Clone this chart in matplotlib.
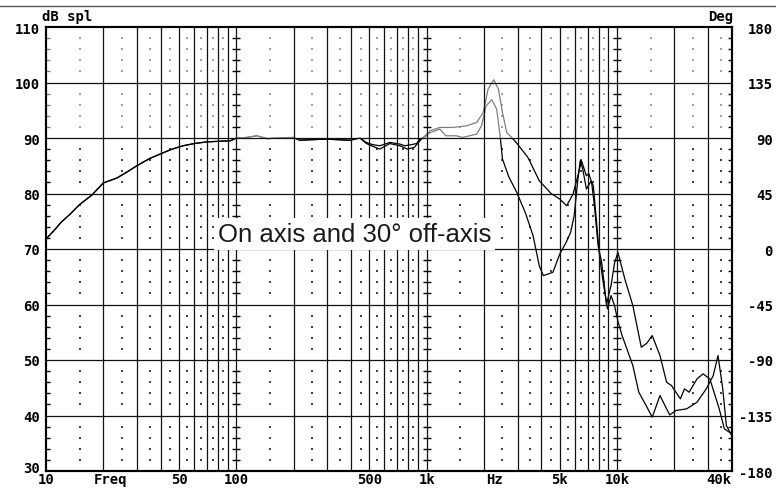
import matplotlib
matplotlib.use("Agg")
import matplotlib.pyplot as plt
from matplotlib.lines import Line2D
from matplotlib.transforms import ScaledTranslation
import numpy as np

## --- Data ---
# part shared by both curves, 10 Hz .. 450 Hz
LOW_FREQ = [10, 11, 12, 13.4, 15, 17.4, 20, 23.6, 27, 30, 35, 41, 46, 52.5, 60, 70, 80,
            93, 100, 108, 128, 145, 169, 199, 216, 250, 298, 340, 395, 445]
LOW_DB = [71.8, 73.3, 74.8, 76.3, 78.0, 79.7, 81.9, 82.8, 84.0, 85.0, 86.3, 87.3, 88.0, 88.6,
          89.0, 89.3, 89.4, 89.5, 90.0, 90.0, 90.4, 89.9, 90.0, 90.1, 89.6, 89.7, 89.8, 89.7,
          89.6, 90.0]

# on axis
ON_FREQ = [482, 520, 567, 640, 723, 767, 830, 884, 920, 1000, 1040, 1170, 1370, 1620, 1830,
           1980, 2100, 2250, 2380, 2500, 2630, 2900, 3030, 3400, 3900, 4500, 5000, 5430, 5870,
           6200, 6500, 6900, 7100, 7350, 7600, 7950, 8300, 8800, 9300, 9700, 10100, 11000,
           12100, 13400, 14300, 15300, 16800, 18200, 19300, 21500, 22600, 23900, 26300, 28300,
           30700, 34400, 36600, 40000]
ON_DB = [89.2, 88.8, 88.6, 89.2, 88.9, 88.6, 88.8, 89.0, 89.8, 90.4, 91.3, 91.9, 91.9, 92.2,
         92.8, 94.6, 98.8, 100.5, 98.8, 94.6, 91.0, 89.5, 88.7, 86.5, 82.3, 80.0, 79.0, 77.8,
         79.9, 83.0, 85.9, 83.2, 83.6, 82.0, 77.8, 70.6, 67.6, 60.0, 63.5, 67.5, 69.4, 64.5,
         59.8, 52.3, 53.0, 54.4, 50.8, 46.0, 45.4, 43.0, 44.8, 44.2, 46.6, 47.5, 46.6, 41.2,
         37.6, 36.7]

# 30 degrees off axis
OFF_FREQ = [482, 530, 567, 640, 723, 790, 860, 920, 1000, 1170, 1260, 1430, 1540, 1830, 1940,
            2050, 2200, 2330, 2430, 2500, 2700, 2970, 3300, 3620, 3900, 4100, 4600, 5000, 5400,
            5700, 5950, 6200, 6400, 6600, 6900, 7300, 7500, 7800, 8100, 8400, 8900, 9300, 9700,
            10100, 10600, 12100, 13000, 14200, 15300, 16800, 18200, 18900, 20400, 23200, 26300,
            29400, 32000, 33900, 35900, 37500, 40000]
OFF_DB = [89.0, 88.4, 88.0, 89.0, 88.6, 88.0, 88.3, 89.5, 90.7, 91.6, 90.4, 90.4, 90.1, 90.7,
          92.2, 95.8, 96.9, 95.2, 90.4, 86.2, 83.0, 80.2, 76.5, 72.4, 67.0, 65.2, 65.8, 69.1,
          71.2, 73.0, 76.0, 82.0, 85.9, 84.4, 80.8, 82.2, 81.4, 74.8, 68.5, 64.6, 59.2, 61.6,
          59.8, 57.0, 54.5, 49.0, 44.2, 41.8, 39.7, 43.6, 41.2, 40.1, 40.9, 41.2, 42.4, 44.8,
          47.2, 50.8, 44.8, 38.2, 36.4]

DB_TICKS = [30, 40, 50, 60, 70, 80, 90, 100, 110]
DEG_TICKS = [-180, -135, -90, -45, 0, 45, 90, 135, 180]
X_TICKS = [10, 21.7, 50, 100, 500, 1000, 2280, 5000, 10000, 40000]
X_LABELS = ["10", "Freq", "50", "100", "500", "1k", "Hz", "5k", "10k", "40k"]
ANNOTATION = "On axis and 30\u00b0 off-axis"

## --- Plot settings ---
W, H = 776, 489
LEFT, RIGHT, TOP, BOTTOM = 46, 731.7, 28, 472
LABEL_FONT = dict(family="DejaVu Sans Mono", weight="bold", size=10)
GRID_COLOR = "#111111"


def main():
    fig = plt.figure(figsize=(W / 100, H / 100), dpi=100)
    ax = fig.add_axes([LEFT / W, 1 - BOTTOM / H, (RIGHT - LEFT) / W, (BOTTOM - TOP) / H])
    ax.set_xscale("log")
    ax.set_xlim(10, 40000)
    ax.set_ylim(30, 110)

    # solid grid
    for dec in [10, 100, 1000, 10000]:
        for m in range(1, 10):
            f = m * dec
            if 10 < f < 40000:
                ax.axvline(f, color=GRID_COLOR, lw=0.9, zorder=4)
    for y in range(40, 110, 10):
        ax.axhline(y, color=GRID_COLOR, lw=0.9, zorder=4)

    # dotted grid
    levels = [y for y in range(32, 110, 2) if y % 10]
    dot_f = [m * dec for dec in [10, 100, 1000, 10000] for m in np.arange(1.5, 9, 1.0)
             if m * dec < 40000]
    fx, fy = np.meshgrid(dot_f, levels)
    ax.scatter(fx.ravel(), fy.ravel(), s=0.6, marker="s", color="#444444",
               linewidths=0, zorder=1)

    # dashes across decade lines
    for dec in [100, 1000, 10000]:
        ax.plot([dec] * len(levels), levels, ls="none", marker="_", ms=6, mew=1.0,
                color="black", zorder=4)

    # curves
    ax.plot(LOW_FREQ + ON_FREQ, LOW_DB + ON_DB, color="black", lw=0.9, zorder=2)
    ax.plot(LOW_FREQ + OFF_FREQ, LOW_DB + OFF_DB, color="black", lw=0.9, zorder=2)

    # faded upper band
    ax.axhspan(90, 110, color="white", alpha=0.5, lw=0, zorder=3)

    ax.text(80, 71.5, ANNOTATION, fontsize=18.5, family="Liberation Sans", color="#1a1a1a",
            ha="left", va="baseline", zorder=6,
            bbox=dict(fc="white", ec="none", boxstyle="square,pad=0.15"))

    # left axis
    ax.set_yticks(DB_TICKS)
    ax.set_yticklabels([str(v) for v in DB_TICKS], fontdict=LABEL_FONT)
    ax.set_yticks(range(30, 111, 2), minor=True)
    ax.tick_params(axis="y", which="major", length=0, pad=4.5)
    ax.tick_params(axis="y", which="minor", direction="in", length=3, width=1)
    ax.set_xticks(X_TICKS)
    ax.set_xticklabels(X_LABELS, fontdict=LABEL_FONT)
    ax.xaxis.set_minor_locator(matplotlib.ticker.NullLocator())
    ax.tick_params(axis="x", which="major", length=0, pad=0.8)
    ax.get_xticklabels()[-1].set_horizontalalignment("right")
    lowest = ax.get_yticklabels()[0]
    lowest.set_transform(lowest.get_transform() + ScaledTranslation(0, 3 / 72, fig.dpi_scale_trans))

    # right axis (phase)
    ax2 = ax.twinx()
    ax2.set_ylim(-180, 180)
    ax2.set_yticks(DEG_TICKS)
    ax2.set_yticklabels([str(v) for v in DEG_TICKS], fontdict=LABEL_FONT, ha="right")
    ax2.set_yticks(np.arange(-180, 181, 9), minor=True)
    ax2.tick_params(axis="y", which="major", length=0, pad=29.5)
    ax2.tick_params(axis="y", which="minor", direction="in", length=3, width=1)

    for a in (ax, ax2):
        for sp in a.spines.values():
            sp.set_linewidth(1.5)
            sp.set_color("black")
            sp.set_zorder(5)

    fig.text(42 / W, 1 - 17 / H, "dB spl", ha="left", va="center", **LABEL_FONT)
    fig.text(733 / W, 1 - 17 / H, "Deg", ha="right", va="center", **LABEL_FONT)
    fig.add_artist(Line2D([0, 1], [1 - 6.7 / H] * 2, color="#555555", lw=1))

    fig.savefig("out.png", dpi=100)


if __name__ == "__main__":
    main()
